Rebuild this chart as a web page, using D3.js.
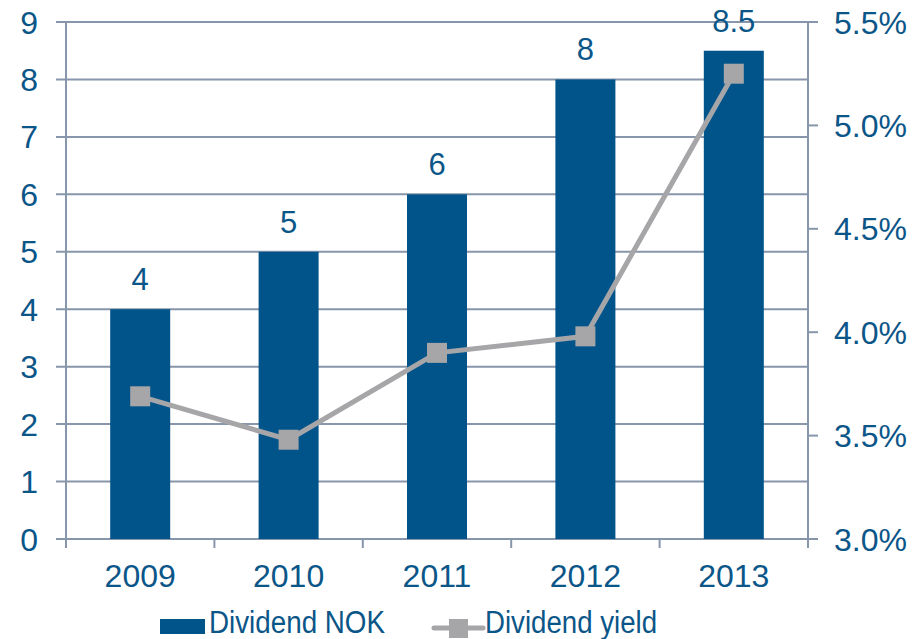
<!DOCTYPE html>
<html>
<head>
<meta charset="utf-8">
<script src="https://cdn.jsdelivr.net/npm/d3@7"></script>
<style>
  body { margin: 0; background: #fff; }
  text { font-family: "Liberation Sans", Arial, sans-serif; fill: #0b5688; }
</style>
</head>
<body>
<div id="chart"></div>
<script>
(function(){

var years = ["2009", "2010", "2011", "2012", "2013"];
var dividendNOK = [4, 5, 6, 8, 8.5];
var dividendYield = [3.69, 3.48, 3.90, 3.98, 5.25];
var leftTicks = [0, 1, 2, 3, 4, 5, 6, 7, 8, 9];
var rightTicks = [3.0, 3.5, 4.0, 4.5, 5.0, 5.5];

var W = 922, H = 639;
var x0 = 66, x1 = 808, yTop = 22, yBot = 539;
var gridColor = "#8796aa", barColor = "#00548a", lineColor = "#a6a6a9";

var svg = d3.select("#chart").append("svg")
  .attr("width", W).attr("height", H);

var x = d3.scaleBand().domain(years).range([x0, x1]).paddingInner(0).paddingOuter(0);
var yL = d3.scaleLinear().domain([0, 9]).range([yBot, yTop]);
var yR = d3.scaleLinear().domain([3.0, 5.5]).range([yBot, yTop]);

// gridlines
svg.selectAll(".grid").data(leftTicks).enter().append("line")
  .attr("x1", x0 - 10).attr("x2", x1)
  .attr("y1", function(d){ return yL(d); }).attr("y2", function(d){ return yL(d); })
  .style("stroke", gridColor).style("stroke-width", 2);

// left axis line
svg.append("line").attr("x1", x0).attr("x2", x0).attr("y1", yTop).attr("y2", yBot + 9)
  .style("stroke", gridColor).style("stroke-width", 2);
// right axis line
svg.append("line").attr("x1", x1).attr("x2", x1).attr("y1", yTop).attr("y2", yBot + 9)
  .style("stroke", gridColor).style("stroke-width", 2);

// x category ticks
var bounds = years.map(function(d){ return x(d); }).concat([x1]);
svg.selectAll(".xt").data(bounds).enter().append("line")
  .attr("x1", function(d){ return d; }).attr("x2", function(d){ return d; })
  .attr("y1", yBot).attr("y2", yBot + 9)
  .style("stroke", gridColor).style("stroke-width", 2);

// right ticks
svg.selectAll(".rt").data(rightTicks).enter().append("line")
  .attr("x1", x1).attr("x2", x1 + 10)
  .attr("y1", function(d){ return yR(d); }).attr("y2", function(d){ return yR(d); })
  .style("stroke", gridColor).style("stroke-width", 2);

// bars
var bw = 60;
svg.selectAll(".bar").data(dividendNOK).enter().append("rect")
  .attr("x", function(d, i){ return x(years[i]) + x.bandwidth() / 2 - bw / 2; })
  .attr("y", function(d){ return yL(d); })
  .attr("width", bw)
  .attr("height", function(d){ return yBot - yL(d); })
  .style("fill", barColor);

// bar labels
svg.selectAll(".blab").data(dividendNOK).enter().append("text")
  .attr("x", function(d, i){ return x(years[i]) + x.bandwidth() / 2; })
  .attr("y", function(d){ return yL(d) - 19; })
  .attr("text-anchor", "middle")
  .attr("font-size", "31px")
  .text(function(d){ return d; });

// line
var line = d3.line()
  .x(function(d, i){ return x(years[i]) + x.bandwidth() / 2; })
  .y(function(d){ return yR(d); });
svg.append("path").datum(dividendYield)
  .attr("d", line)
  .style("fill", "none").style("stroke", lineColor).style("stroke-width", 5);

svg.selectAll(".mk").data(dividendYield).enter().append("rect")
  .attr("x", function(d, i){ return x(years[i]) + x.bandwidth() / 2 - 10; })
  .attr("y", function(d){ return yR(d) - 10; })
  .attr("width", 20).attr("height", 20)
  .style("fill", lineColor);

// left tick labels
svg.selectAll(".ll").data(leftTicks).enter().append("text")
  .attr("x", 38).attr("y", function(d){ return yL(d) + 11.5; })
  .attr("text-anchor", "end").attr("font-size", "32px")
  .text(function(d){ return d; });

// right tick labels
svg.selectAll(".rl").data(rightTicks).enter().append("text")
  .attr("x", 834).attr("y", function(d){ return yR(d) + 11.5; })
  .attr("font-size", "32px")
  .text(function(d){ return d.toFixed(1) + "%"; });

// x labels
svg.selectAll(".xl").data(years).enter().append("text")
  .attr("x", function(d){ return x(d) + x.bandwidth() / 2; })
  .attr("y", 587)
  .attr("text-anchor", "middle").attr("font-size", "32px")
  .text(function(d){ return d; });

// legend
svg.append("rect").attr("x", 160).attr("y", 619).attr("width", 45).attr("height", 15)
  .style("fill", barColor);
svg.append("text").attr("x", 209).attr("y", 633).attr("font-size", "31px")
  .attr("textLength", 176).attr("lengthAdjust", "spacingAndGlyphs").text("Dividend NOK");
svg.append("line").attr("x1", 434).attr("x2", 483).attr("y1", 628).attr("y2", 628)
  .style("stroke", lineColor).style("stroke-width", 5).style("stroke-linecap", "round");
svg.append("rect").attr("x", 449).attr("y", 619).attr("width", 19).attr("height", 19)
  .style("fill", lineColor);
svg.append("text").attr("x", 485).attr("y", 633).attr("font-size", "31px")
  .attr("textLength", 172).attr("lengthAdjust", "spacingAndGlyphs").text("Dividend yield");

})();
</script>
</body>
</html>
